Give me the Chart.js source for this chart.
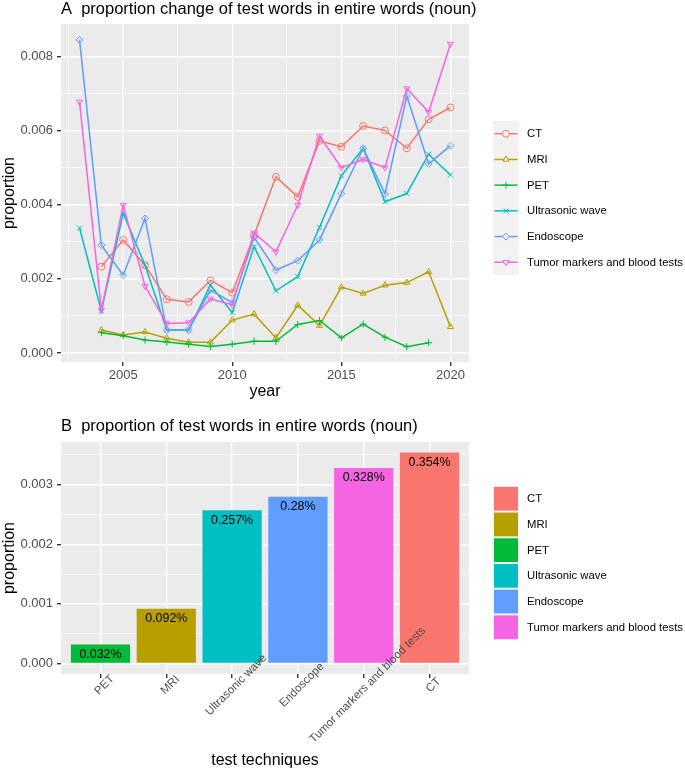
<!DOCTYPE html>
<html>
<head>
<meta charset="utf-8">
<script src="https://cdn.jsdelivr.net/npm/chart.js@4.4.1/dist/chart.umd.min.js"></script>
<style>
  body { margin: 0; background: #fff; width: 685px; height: 772px; overflow: hidden; }
  .box { position: absolute; left: 0; width: 685px; }
</style>
</head>
<body>
<div class="box" style="top:0;height:405px"><canvas id="lineChart"></canvas></div>
<div class="box" style="top:405px;height:367px"><canvas id="barChart"></canvas></div>
<script>
// ---- data ----
const years = [2003, 2004, 2005, 2006, 2007, 2008, 2009, 2010, 2011, 2012, 2013, 2014, 2015, 2016, 2017, 2018, 2019, 2020];
const ctValues = [null, 0.00233, 0.00305, 0.00237, 0.00145, 0.00138, 0.00196, 0.00163, 0.00318, 0.00475, 0.00421, 0.00572, 0.00556, 0.00612, 0.00600, 0.00552, 0.00630, 0.00662];
const mriValues = [null, 0.00062, 0.00049, 0.00057, 0.00040, 0.00029, 0.00029, 0.00089, 0.00105, 0.00041, 0.00129, 0.00074, 0.00178, 0.00161, 0.00183, 0.00190, 0.00219, 0.00071];
const petValues = [null, 0.00055, 0.00047, 0.00035, 0.00030, 0.00024, 0.00018, 0.00024, 0.00032, 0.00032, 0.00077, 0.00088, 0.00041, 0.00078, 0.00043, 0.00017, 0.00028, null];
const usValues = [0.00337, 0.00113, 0.00377, 0.00237, 0.00062, 0.00062, 0.00183, 0.00109, 0.00287, 0.00168, 0.00206, 0.00339, 0.00478, 0.00552, 0.00408, 0.00430, 0.00536, 0.00480];
const endoValues = [0.00844, 0.00291, 0.00210, 0.00363, 0.00062, 0.00062, 0.00170, 0.00136, 0.00312, 0.00224, 0.00249, 0.00305, 0.00430, 0.00552, 0.00429, 0.00693, 0.00510, 0.00559];
const tumorValues = [0.00677, 0.00116, 0.00399, 0.00180, 0.00080, 0.00082, 0.00146, 0.00130, 0.00324, 0.00273, 0.00399, 0.00585, 0.00500, 0.00522, 0.00500, 0.00713, 0.00650, 0.00833];

const techniques = ["CT", "MRI", "PET", "Ultrasonic wave", "Endoscope", "Tumor markers and blood tests"];
const techColors = ["#F8766D", "#B79F00", "#00BA38", "#00BFC4", "#619CFF", "#F564E3"];

const yearTicks = [2002.5, 2005, 2007.5, 2010, 2012.5, 2015, 2017.5, 2020];
const lineYTicks = [0, 0.001, 0.002, 0.003, 0.004, 0.005, 0.006, 0.007, 0.008];

const barLabels = ["PET", "MRI", "Ultrasonic wave", "Endoscope", "Tumor markers and blood tests", "CT"];
const barValues = [0.00032, 0.00092, 0.00257, 0.00280, 0.00328, 0.00354];
const barYTicks = [0, 0.0005, 0.001, 0.0015, 0.002, 0.0025, 0.003, 0.0035];

// ---- helpers ----
const FONT = "'Liberation Sans', Arial, sans-serif";
const isMajor = (v, step) => Math.abs(v / step - Math.round(v / step)) < 1e-6;
const colorOf = name => techColors[techniques.indexOf(name)];

// grey ggplot panel
const panelBg = {
  id: "panelBg",
  beforeDraw(chart) {
    const { ctx, chartArea: a } = chart;
    ctx.save();
    ctx.fillStyle = "#EBEBEB";
    ctx.fillRect(a.left, a.top, a.right - a.left, a.bottom - a.top);
    ctx.restore();
  }
};

function titlePlugin(text, baseline) {
  return {
    id: "ggTitle",
    afterDraw(chart) {
      const ctx = chart.ctx;
      ctx.save();
      ctx.font = "16.5px " + FONT;
      ctx.fillStyle = "#000";
      ctx.textAlign = "left";
      ctx.textBaseline = "alphabetic";
      ctx.fillText(text, chart.chartArea.left, baseline);
      ctx.restore();
    }
  };
}

// legend drawn like ggplot's key column
function legendPlugin(kind, centerY) {
  return {
    id: "ggLegend",
    afterDraw(chart) {
      const ctx = chart.ctx;
      const step = 25.7, kx = 493, kw = 26;
      ctx.save();
      techniques.forEach((name, i) => {
        const y = centerY + (i - 2.5) * step;
        const col = colorOf(name);
        ctx.fillStyle = "#F2F2F2";
        ctx.fillRect(kx, y - step / 2, kw, step);
        if (kind === "line") {
          const ds = chart.data.datasets.find(d => d.label === name);
          ctx.strokeStyle = col;
          ctx.lineWidth = 1.5;
          ctx.beginPath();
          ctx.moveTo(kx + 1.5, y);
          ctx.lineTo(kx + kw - 1.5, y);
          ctx.stroke();
          ctx.lineWidth = 1;
          Chart.helpers.drawPoint(ctx, {
            pointStyle: ds.pointStyle, rotation: ds.pointRotation || 0,
            radius: ds.pointRadius, borderWidth: 1
          }, kx + kw / 2, y);
        } else {
          ctx.fillStyle = col;
          ctx.fillRect(kx + 1, y - step / 2 + 1, kw - 2, step - 2);
        }
        ctx.fillStyle = "#000";
        ctx.font = "11.3px " + FONT;
        ctx.textAlign = "left";
        ctx.textBaseline = "middle";
        ctx.fillText(name, 527, y + 0.5);
      });
      ctx.restore();
    }
  };
}

const gridOpts = (step) => ({
  color: "#FFFFFF",
  lineWidth: c => (c.tick && isMajor(c.tick.value, step)) ? 1.4 : 0.7,
  tickLength: 4,
  tickColor: c => (c.tick && isMajor(c.tick.value, step)) ? "#333333" : "rgba(0,0,0,0)"
});

// ---- chart A: lines ----
const lineSeries = [
  { name: "CT", values: ctValues, style: "circle", rot: 0 },
  { name: "MRI", values: mriValues, style: "triangle", rot: 0 },
  { name: "PET", values: petValues, style: "cross", rot: 0 },
  { name: "Ultrasonic wave", values: usValues, style: "crossRot", rot: 0 },
  { name: "Endoscope", values: endoValues, style: "rectRot", rot: 0 },
  { name: "Tumor markers and blood tests", values: tumorValues, style: "triangle", rot: 180 }
];

new Chart(document.getElementById("lineChart"), {
  type: "line",
  data: {
    datasets: lineSeries.map((s, i) => ({
      label: s.name,
      data: years.map((yr, j) => ({ x: yr, y: s.values[j] })),
      borderColor: colorOf(s.name),
      borderWidth: 1.5,
      pointStyle: s.style,
      pointRotation: s.rot,
      pointRadius: 3.5,
      pointBorderWidth: 1,
      pointBorderColor: colorOf(s.name),
      pointBackgroundColor: "rgba(0,0,0,0)",
      tension: 0,
      spanGaps: false,
      order: lineSeries.length - i
    }))
  },
  options: {
    responsive: true,
    maintainAspectRatio: false,
    animation: false,
    layout: { padding: { top: 24, right: 216, left: 0, bottom: 0 } },
    plugins: { legend: { display: false }, tooltip: { enabled: false } },
    scales: {
      x: {
        type: "linear",
        min: 2002.15,
        max: 2020.85,
        afterBuildTicks: s => { s.ticks = yearTicks.map(v => ({ value: v })); },
        afterFit: s => { s.height = 43; },
        ticks: {
          callback: v => isMajor(v, 5) ? String(v) : "",
          color: "#4D4D4D", font: { family: FONT, size: 13 }, padding: 2, maxRotation: 0
        },
        grid: gridOpts(5),
        border: { display: false },
        title: { display: true, text: "year", color: "#000", font: { family: FONT, size: 16 }, padding: { top: 0, bottom: 4 } }
      },
      y: {
        min: -0.00024,
        max: 0.00887,
        afterBuildTicks: s => { s.ticks = lineYTicks.map(v => ({ value: v })); },
        afterFit: s => { s.width = 61; },
        ticks: {
          callback: v => isMajor(v, 0.002) ? v.toFixed(3) : "",
          color: "#4D4D4D", font: { family: FONT, size: 13 }, padding: 4
        },
        grid: gridOpts(0.002),
        border: { display: false },
        title: { display: true, text: "proportion", color: "#000", font: { family: FONT, size: 16 }, padding: { top: 0, bottom: 0 } }
      }
    }
  },
  plugins: [panelBg, titlePlugin("A  proportion change of test words in entire words (noun)", 14), legendPlugin("line", 198)]
});

// ---- chart B: bars ----
const barValueLabels = {
  id: "barValueLabels",
  afterDatasetsDraw(chart) {
    const ctx = chart.ctx;
    const meta = chart.getDatasetMeta(0);
    ctx.save();
    ctx.font = "12.4px " + FONT;
    ctx.fillStyle = "#000";
    ctx.textAlign = "center";
    ctx.textBaseline = "middle";
    meta.data.forEach((bar, i) => {
      const txt = parseFloat((barValues[i] * 100).toFixed(3)) + "%";
      ctx.fillText(txt, bar.x, bar.y + 10);
    });
    ctx.restore();
  }
};

const barXLabels = {
  id: "barXLabels",
  afterDraw(chart) {
    const ctx = chart.ctx;
    const xs = chart.scales.x;
    ctx.save();
    ctx.font = "11.5px " + FONT;
    ctx.fillStyle = "#4D4D4D";
    ctx.textAlign = "center";
    ctx.textBaseline = "middle";
    barLabels.forEach((lab, i) => {
      const px = xs.getPixelForValue(i + 1);
      ctx.save();
      ctx.translate(px + 4, chart.chartArea.bottom + 11);
      ctx.rotate(-Math.PI / 4);
      ctx.fillText(lab, 0, 0);
      ctx.restore();
    });
    ctx.restore();
  }
};

new Chart(document.getElementById("barChart"), {
  type: "bar",
  data: {
    datasets: [{
      label: "proportion",
      data: barValues.map((v, i) => ({ x: i + 1, y: v })),
      backgroundColor: barLabels.map(colorOf),
      borderWidth: 0,
      categoryPercentage: 1,
      barPercentage: 0.9
    }]
  },
  options: {
    responsive: true,
    maintainAspectRatio: false,
    animation: false,
    layout: { padding: { top: 37, right: 216, left: 0, bottom: 0 } },
    plugins: { legend: { display: false }, tooltip: { enabled: false } },
    scales: {
      x: {
        type: "linear",
        offset: false,
        min: 0.4,
        max: 6.6,
        afterBuildTicks: s => { s.ticks = barLabels.map((l, i) => ({ value: i + 1 })); },
        afterFit: s => { s.height = 98; },
        ticks: { display: false },
        grid: { offset: false, color: "#FFFFFF", lineWidth: 1.4, tickLength: 4, tickColor: "#333333" },
        border: { display: false },
        title: { display: true, text: "test techniques", color: "#000", font: { family: FONT, size: 16 }, padding: { top: 0, bottom: 2 } }
      },
      y: {
        min: -0.000177,
        max: 0.003717,
        afterBuildTicks: s => { s.ticks = barYTicks.map(v => ({ value: v })); },
        afterFit: s => { s.width = 61; },
        ticks: {
          callback: v => isMajor(v, 0.001) ? v.toFixed(3) : "",
          color: "#4D4D4D", font: { family: FONT, size: 13 }, padding: 4
        },
        grid: gridOpts(0.001),
        border: { display: false },
        title: { display: true, text: "proportion", color: "#000", font: { family: FONT, size: 16 }, padding: { top: 0, bottom: 0 } }
      }
    }
  },
  plugins: [panelBg, barValueLabels, barXLabels, titlePlugin("B  proportion of test words in entire words (noun)", 26), legendPlugin("bar", 158)]
});
</script>
</body>
</html>
